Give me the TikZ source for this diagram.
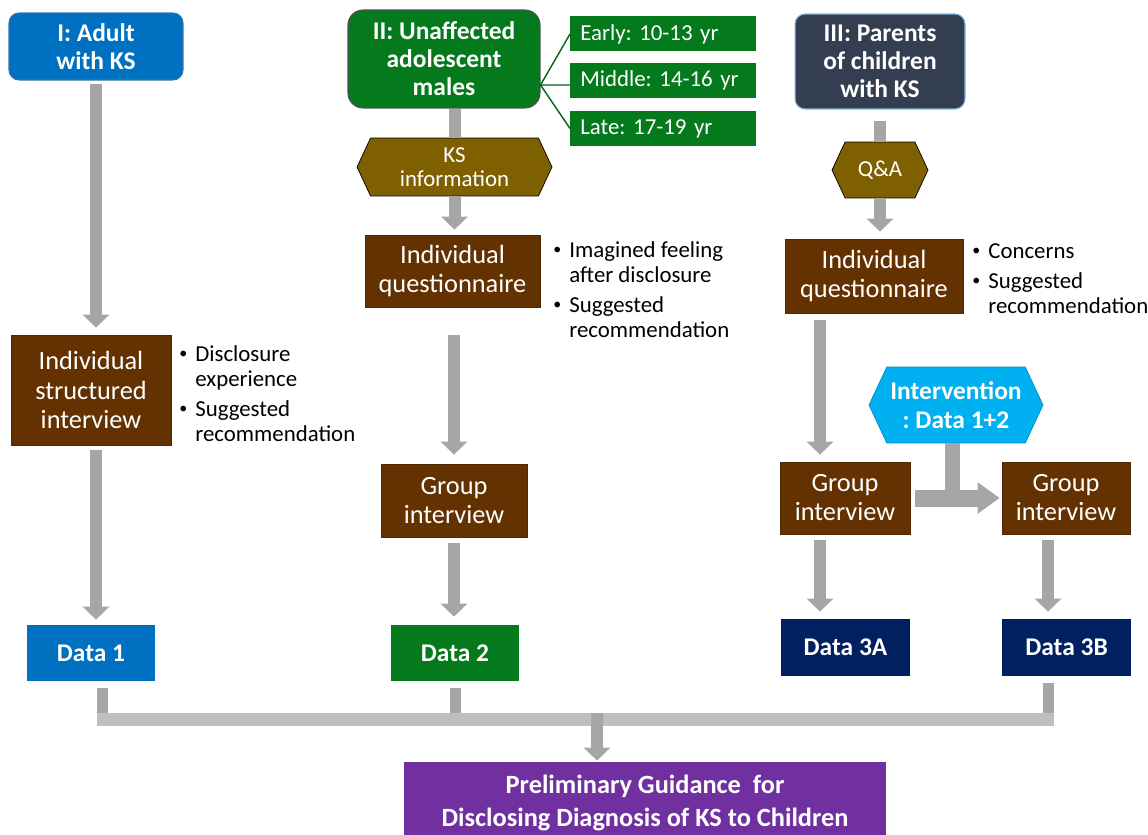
\documentclass[tikz,border=0pt]{standalone}
\usepackage{fontspec}
\setmainfont{Carlito}
\usetikzlibrary{arrows.meta, positioning, shapes.symbols}
\frenchspacing

\definecolor{ksblue}{RGB}{0,112,192}
\definecolor{ksgreen}{RGB}{4,122,28}
\definecolor{ksslate}{RGB}{51,63,80}
\definecolor{ksbrown}{RGB}{99,50,0}
\definecolor{ksolive}{RGB}{127,96,0}
\definecolor{kscyan}{RGB}{0,176,240}
\definecolor{ksnavy}{RGB}{0,32,96}
\definecolor{kspurple}{RGB}{112,48,160}
\definecolor{arrgray}{RGB}{166,166,166}
\definecolor{busgray}{RGB}{191,191,191}

\newcommand{\ksbul}{\makebox[0.36cm][l]{\hspace{0.04cm}\raisebox{0.12em}{\scalebox{0.7}{\textbullet}}}}
\newcommand{\ksind}{\hspace*{0.36cm}}

\tikzset{
  cohort/.style={rounded corners=0.2cm, text=white, align=center, inner sep=0pt,
    line width=0.6pt, font=\fontsize{14.5}{16}\selectfont\bfseries},
  task/.style={fill=ksbrown, draw=ksbrown!80!black, text=white, align=center,
    inner sep=0pt, font=\fontsize{15}{16.5}\selectfont},
  info/.style={signal, signal to=west and east, signal pointer angle=130,
    inner sep=0pt, text=white, align=center, font=\fontsize{13}{14}\selectfont},
  agebox/.style={fill=ksgreen, text=white, anchor=west, inner xsep=0.2cm,
    inner ysep=0pt, text width=3.32cm, align=left, minimum height=0.7cm,
    font=\fontsize{13}{15}\selectfont},
  data/.style={text=white, inner sep=0pt, minimum width=2.56cm,
    minimum height=1.12cm, font=\fontsize{14.5}{16}\selectfont\bfseries},
  notes/.style={anchor=base west, inner sep=0pt, align=left,
    font=\fontsize{13}{14.2}\selectfont},
  flow/.style={draw=arrgray, line width=0.24cm,
    -{Triangle[width=0.52cm, length=0.26cm]}},
  stem/.style={draw=arrgray, line width=0.24cm},
}

\begin{document}
\begin{tikzpicture}[x=0.02cm, y=-0.02cm]
\useasboundingbox (0,0) rectangle (1148,834);

% column I
\node[cohort, fill=ksblue, draw=ksblue!60!gray, minimum width=3.48cm, minimum height=1.34cm] (adult) at (96,46.5) {I: Adult\\with KS};
\node[task, minimum width=3.2cm, minimum height=2.2cm, font=\fontsize{15}{17}\selectfont] (interview) at (91,390) {Individual\\structured\\interview};
\node[notes] (notes1) at (177,441) {\ksbul Disclosure\\\ksind experience\\[0.1cm]\ksbul Suggested\\\ksind recommendation};
\node[data, fill=ksblue] (data1) at (91,653) {Data 1};

% column II
\node[cohort, fill=ksgreen, draw=black!70, rounded corners=0.3cm, minimum width=3.84cm, minimum height=1.96cm] (teens) at (444,59) {II: Unaffected\\adolescent\\males};
\node[agebox] (early) at (570,34) {Early: 10-13 yr};
\node[agebox] (middle) at (570,80.5) {Middle: 14-16 yr};
\node[agebox] (late) at (570,128.5) {Late: 17-19 yr};
\coordinate (fork) at ([yshift=-0.52cm]teens.east);
\draw[ksgreen!80!black, line width=0.8pt] (fork) -- (early.west) (fork) -- (fork -| middle.west) (fork) -- (late.west);
\node[info, fill=ksolive, draw=black, minimum width=3.9cm, minimum height=1.16cm] (ksinfo) at (454.5,167) {KS\\information};
\node[task, minimum width=3.5cm, minimum height=1.44cm] (quest2) at (452.5,271) {Individual\\questionnaire};
\node[notes] (notes2) at (551,337) {\ksbul Imagined feeling\\\ksind after disclosure\\[0.1cm]\ksbul Suggested\\\ksind recommendation};
\node[task, minimum width=2.92cm, minimum height=1.46cm] (group2) at (454,500.5) {Group\\interview};
\node[data, fill=ksgreen] (data2) at (455,653) {Data 2};

% column III
\node[cohort, fill=ksslate, draw=ksblue!50!white, minimum width=3.4cm, minimum height=1.9cm] (parents) at (880,61.5) {III: Parents\\of children\\with KS};
\node[info, fill=ksolive, draw=black, minimum width=1.92cm, minimum height=1.12cm] (qa) at (880,170) {Q\&A};
\node[task, minimum width=3.56cm, minimum height=1.48cm] (quest3) at (874,276) {Individual\\questionnaire};
\node[notes] (notes3) at (970,313) {\ksbul Concerns\\[0.1cm]\ksbul Suggested\\\ksind recommendation};
\node[info, fill=kscyan, draw=kscyan!80!black, minimum width=3.48cm, minimum height=1.52cm, font=\fontsize{14.5}{16.4}\selectfont\bfseries] (interv) at (956,405) {Intervention\\: Data 1+2};
\node[task, minimum width=2.6cm, minimum height=1.44cm] (groupA) at (845,498) {Group\\interview};
\node[task, minimum width=2.56cm, minimum height=1.44cm] (groupB) at (1066,498) {Group\\interview};
\node[data, fill=ksnavy, minimum width=2.58cm, minimum height=1.14cm] (data3a) at (845.5,647.5) {Data 3A};
\node[data, fill=ksnavy, minimum width=2.58cm, minimum height=1.14cm] (data3b) at (1066.5,647.5) {Data 3B};

\node[data, fill=kspurple, minimum width=9.64cm, minimum height=1.64cm, align=center, font=\fontsize{15}{18.7}\selectfont\bfseries] (guide) at (645,803) {Preliminary Guidance~ for\\Disclosing Diagnosis of KS to Children};

% arrows
\draw[flow, shorten <=0.06cm, shorten >=0.14cm] (adult.south) -- (adult.south |- interview.north);
\draw[flow, shorten <=0.1cm, shorten >=0.1cm] (adult.south |- interview.south) -- (adult.south |- data1.north);
\draw[stem] (ksinfo.north |- teens.south) -- (ksinfo.north);
\draw[flow, shorten >=0.1cm] (ksinfo.south) -- (ksinfo.south |- quest2.north);
\draw[flow, shorten <=0.56cm, shorten >=0.18cm] (group2.north |- quest2.south) -- (group2.north);
\draw[flow, shorten <=0.12cm, shorten >=0.16cm] (group2.south) -- (group2.south |- data2.north);
\draw[stem, shorten <=0.22cm] (parents.south) -- (qa.north);
\draw[flow, shorten >=0.14cm] (qa.south) -- (qa.south |- quest3.north);
\draw[flow, shorten <=0.14cm, shorten >=0.14cm] ([xshift=-0.5cm]groupA.north |- quest3.south) -- ([xshift=-0.5cm]groupA.north);
\draw[flow, shorten <=0.12cm, shorten >=0.14cm] ([xshift=-0.5cm]groupA.south) -- ([xshift=-0.5cm]groupA.south |- data3a.north);
\draw[flow, shorten <=0.12cm, shorten >=0.14cm] ([xshift=-0.36cm]groupB.south) -- ([xshift=-0.36cm]groupB.south |- data3b.north);
\draw[stem, line width=0.3cm] ([xshift=-0.08cm]interv.south) -- ([xshift=-0.08cm]interv.south |- groupA.east);
\draw[flow, line width=0.34cm, -{Triangle[width=0.6cm, length=0.44cm]}, shorten <=0.1cm, shorten >=0.04cm] (groupA.east) -- (groupB.west);

% merge into guidance
\coordinate (busL) at (97,719.5);
\coordinate (busR) at (1054,719.5);
\coordinate (busM) at (597,719.5);
\draw[stem, line width=0.22cm, shorten <=0.14cm] ([xshift=0.23cm]data1.south) -- ([xshift=0.23cm]data1.south |- busL);
\draw[stem, line width=0.22cm, shorten <=0.14cm] (data2.south) -- (data2.south |- busL);
\draw[stem, line width=0.22cm, shorten <=0.14cm] ([xshift=-0.36cm]data3b.south) -- ([xshift=-0.36cm]data3b.south |- busR);
\draw[busgray, line width=0.26cm] (busL) -- (busR);
\draw[flow, shorten <=-0.13cm, shorten >=0.02cm] (busM) -- (busM |- guide.north);

\end{tikzpicture}
\end{document}
